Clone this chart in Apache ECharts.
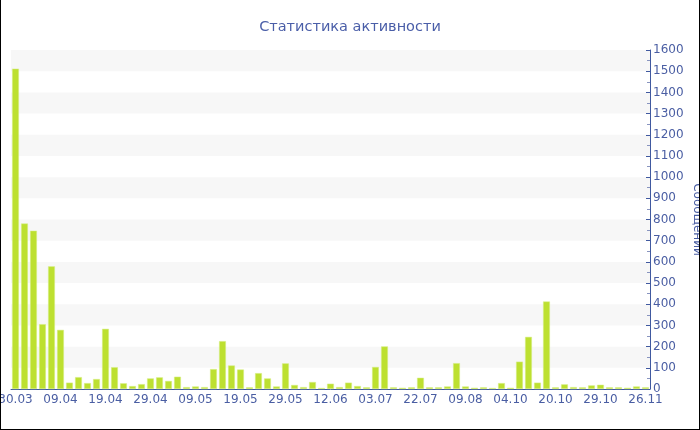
<!DOCTYPE html>
<html><head><meta charset="utf-8">
<script src="https://cdn.jsdelivr.net/npm/echarts@6/dist/echarts.min.js"></script>
<style>
html,body{margin:0;padding:0;background:#fff;}
#c{position:absolute;left:0;top:0;width:700px;height:430px;box-sizing:border-box;border-left:1px solid #000;border-right:1px solid #000;border-bottom:1px solid #000;}
</style></head>
<body><div id="c"></div>
<script>
const titleText = 'Статистика активности';
const yAxisName = 'Сообщений';
const dates = [
 '30.03','01.04','03.04','05.04','07.04','09.04','11.04','13.04','15.04','17.04',
 '19.04','21.04','23.04','25.04','27.04','29.04','01.05','03.05','05.05','07.05',
 '09.05','11.05','13.05','15.05','17.05','19.05','21.05','23.05','25.05','27.05',
 '29.05','31.05','03.06','06.06','09.06','12.06','16.06','20.06','24.06','28.06',
 '03.07','07.07','11.07','15.07','18.07','22.07','26.07','29.07','02.08','05.08',
 '09.08','19.08','30.08','10.09','22.09','04.10','07.10','10.10','13.10','17.10',
 '20.10','22.10','24.10','26.10','28.10','29.10','04.11','10.11','15.11','21.11',
 '26.11'
];
const messages = [
 1512,781,747,306,579,279,30,56,28,47,
 284,103,27,14,23,50,55,38,58,9,
 12,9,94,226,111,92,8,75,50,12,
 121,19,9,33,5,25,9,30,14,8,
 104,201,8,6,8,53,8,8,12,122,
 12,6,8,5,28,6,129,246,30,413,
 8,22,9,8,17,20,8,8,6,12,
 8
];
const chart = echarts.init(document.getElementById('c'), null, {renderer:'canvas'});
const axisColor = '#4059a0';
const labelColor = '#4a5ea3';
chart.setOption({
  animation:false,
  title:{text:titleText,left:'center',top:15,textStyle:{color:'#4a5ea8',fontSize:14.5,fontWeight:'normal',fontFamily:'DejaVu Sans'}},
  grid:{left:10,right:49,top:50,bottom:40,containLabel:false,outerBoundsMode:'none'},
  xAxis:{
    type:'category',data:dates,
    axisLine:{lineStyle:{color:axisColor,width:1}},
    axisTick:{inside:true,length:3,interval:4,alignWithLabel:true,lineStyle:{color:'#999'}},
    axisLabel:{interval:4,color:labelColor,fontSize:12,fontFamily:'DejaVu Sans',margin:5}
  },
  yAxis:{
    type:'value',position:'right',min:0,max:1600,interval:100,
    name:yAxisName,nameLocation:'middle',nameGap:41,nameRotate:-90,nameMoveOverlap:false,
    nameTextStyle:{color:labelColor,fontSize:12,fontFamily:'DejaVu Sans'},
    axisLine:{show:true,lineStyle:{color:axisColor,width:1}},
    axisTick:{show:true,inside:true,length:4,lineStyle:{color:axisColor}},
    minorTick:{show:true,splitNumber:2,length:3,lineStyle:{color:'#8894bf'}},
    axisLabel:{color:labelColor,fontSize:12,fontFamily:'DejaVu Sans',margin:3,formatter:function(v){return String(v);}},
    splitLine:{show:false},
    splitArea:{show:true,areaStyle:{color:['rgba(255,255,255,0)','#f7f7f7']}}
  },
  series:[{
    type:'bar',data:messages,barCategoryGap:'24%',
    itemStyle:{color:'#bde030',borderColor:'#d6ef8a',borderWidth:0.5}
  }]
});
</script></body></html>
